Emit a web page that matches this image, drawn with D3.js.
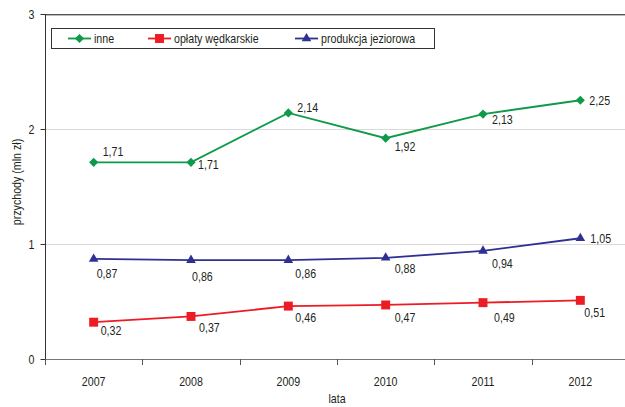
<!DOCTYPE html>
<html><head><meta charset="utf-8">
<script src="https://cdn.jsdelivr.net/npm/d3@7"></script>
<style>
html,body{margin:0;padding:0;background:#fff;overflow:hidden}
text{font-family:"Liberation Sans Narrow","Arial Narrow","Liberation Sans",sans-serif;fill:#231f20}
</style></head>
<body><svg id="c" width="625" height="407"></svg>
<script>
const years = ["2007","2008","2009","2010","2011","2012"];
const inne = [1.71, 1.71, 2.14, 1.92, 2.13, 2.25];
const oplaty = [0.32, 0.37, 0.46, 0.47, 0.49, 0.51];
const produkcja = [0.87, 0.86, 0.86, 0.88, 0.94, 1.05];
const yTicks = [0, 1, 2, 3];
const seriesNames = ["inne", "opłaty wędkarskie", "produkcja jeziorowa"];
const yTitle = "przychody (mln zł)";
const xTitle = "lata";

// label offsets (layout only)
const labelOff = [
  [[9,-6],[7,7],[9,-1],[9,13],[9,10],[9,5]],
  [[7,13],[8,16],[7,16],[9,17],[11,19],[4,17]],
  [[3,19],[1,21],[7,18],[9,15],[9,17],[10,5]]
];

const SX = 0.82;
const FONT = 13;
function ntext(sel, px, py, str, anchor, rot) {
  return sel.append("text")
    .attr("transform", `translate(${px},${py})${rot ? ` rotate(${rot})` : ""} scale(${SX},1)`)
    .attr("text-anchor", anchor || "start")
    .attr("font-size", FONT).text(str);
}

const svg = d3.select("#c");
const x = d3.scaleBand().domain(years).range([45, 629]).padding(0);
const y = d3.scaleLinear().domain([0, 3]).range([359, 14]);
const cx = d => x(d) + x.bandwidth()/2;

// gridlines
svg.append("g").selectAll("line").data(yTicks.filter(t => t > 0 && t < 3)).join("line")
  .attr("x1", 45).attr("x2", 629).attr("y1", d => y(d)+0.5).attr("y2", d => y(d)+0.5)
  .attr("stroke", "#d9d9d9").attr("stroke-width", 1);
// top border
svg.append("line").attr("x1", 45).attr("x2", 629).attr("y1", y(3)+0.5).attr("y2", y(3)+0.5)
  .attr("stroke", "#555").attr("stroke-width", 1.2);
svg.append("line").attr("x1", 45).attr("x2", 629).attr("y1", y(3)+1.5).attr("y2", y(3)+1.5)
  .attr("stroke", "#bbb").attr("stroke-width", 1);

// y axis
const ya = svg.append("g").attr("transform", "translate(45.5,0)")
  .call(d3.axisLeft(y).tickValues(yTicks).tickSize(5).tickPadding(6).tickFormat(d3.format("d")));
ya.select(".domain").attr("stroke", "#333").attr("d", `M0,${y(3)}V${y(0)}`);
ya.selectAll(".tick line").attr("stroke", "#333");
ya.selectAll(".tick text").attr("font-size", FONT).attr("fill", "#231f20")
  .attr("x", null).attr("dy", null).attr("y", null)
  .attr("transform", `translate(-11,4.5) scale(${SX},1)`)
  .style("font-family", '"Liberation Sans Narrow","Arial Narrow","Liberation Sans",sans-serif');

// x axis
const xa = svg.append("g").attr("transform", `translate(0,${y(0)+0.5})`)
  .call(d3.axisBottom(x).tickSize(0).tickPadding(21));
xa.select(".domain").attr("stroke", "#777").attr("d", "M45,0H629");
xa.selectAll(".tick text").attr("font-size", FONT).attr("fill", "#231f20")
  .attr("y", null).attr("dy", null)
  .attr("transform", `translate(0,26) scale(${SX},1)`)
  .style("font-family", '"Liberation Sans Narrow","Arial Narrow","Liberation Sans",sans-serif');
svg.append("g").selectAll("line").data(years.map(d => x(d)).concat([x.range()[1]])).join("line")
  .attr("x1", d => Math.round(d)+0.5).attr("x2", d => Math.round(d)+0.5)
  .attr("y1", y(0)).attr("y2", y(0)+6).attr("stroke", "#555");

// axis titles
ntext(svg, 21, 182, yTitle, "middle", -90);
ntext(svg, 337, 403, xTitle, "middle");

const colors = ["#0e9a48", "#ed1c24", "#2e3192"];
const data = [inne, oplaty, produkcja];
const fmt = v => d3.format(".2f")(v).replace(".", ",");

const sym = [d3.symbolSquare, d3.symbolSquare, d3.symbolTriangle];
const symSize = [42, 80, 40];
const symRot = [45, 0, 0];

data.forEach((vals, si) => {
  const pts = years.map((yr, i) => [cx(yr), y(vals[i])]);
  svg.append("path").attr("d", d3.line()(pts)).attr("fill", "none")
    .attr("stroke", colors[si]).attr("stroke-width", 1.8);
  svg.append("g").selectAll("path").data(pts).join("path")
    .attr("transform", d => `translate(${d[0]},${d[1]}) rotate(${symRot[si]})`)
    .attr("d", d3.symbol(sym[si], symSize[si])).attr("fill", colors[si]);
  const g = svg.append("g");
  vals.forEach((v, i) => {
    ntext(g, cx(years[i]) + labelOff[si][i][0], y(v) + labelOff[si][i][1], fmt(v));
  });
});

// legend
svg.append("rect").attr("x", 51.5).attr("y", 28.5).attr("width", 383).attr("height", 20)
  .attr("fill", "#fff").attr("stroke", "#333").attr("stroke-width", 1);
const legX = [68, 148, 295];
seriesNames.forEach((n, i) => {
  const g = svg.append("g");
  g.append("line").attr("x1", legX[i]).attr("x2", legX[i]+23).attr("y1", 38.5).attr("y2", 38.5)
    .attr("stroke", colors[i]).attr("stroke-width", 1.8);
  g.append("path").attr("transform", `translate(${legX[i]+11.5},38.5) rotate(${symRot[i]})`)
    .attr("d", d3.symbol(sym[i], symSize[i])).attr("fill", colors[i]);
  ntext(g, legX[i]+26, 43, n);
});
</script></body></html>
